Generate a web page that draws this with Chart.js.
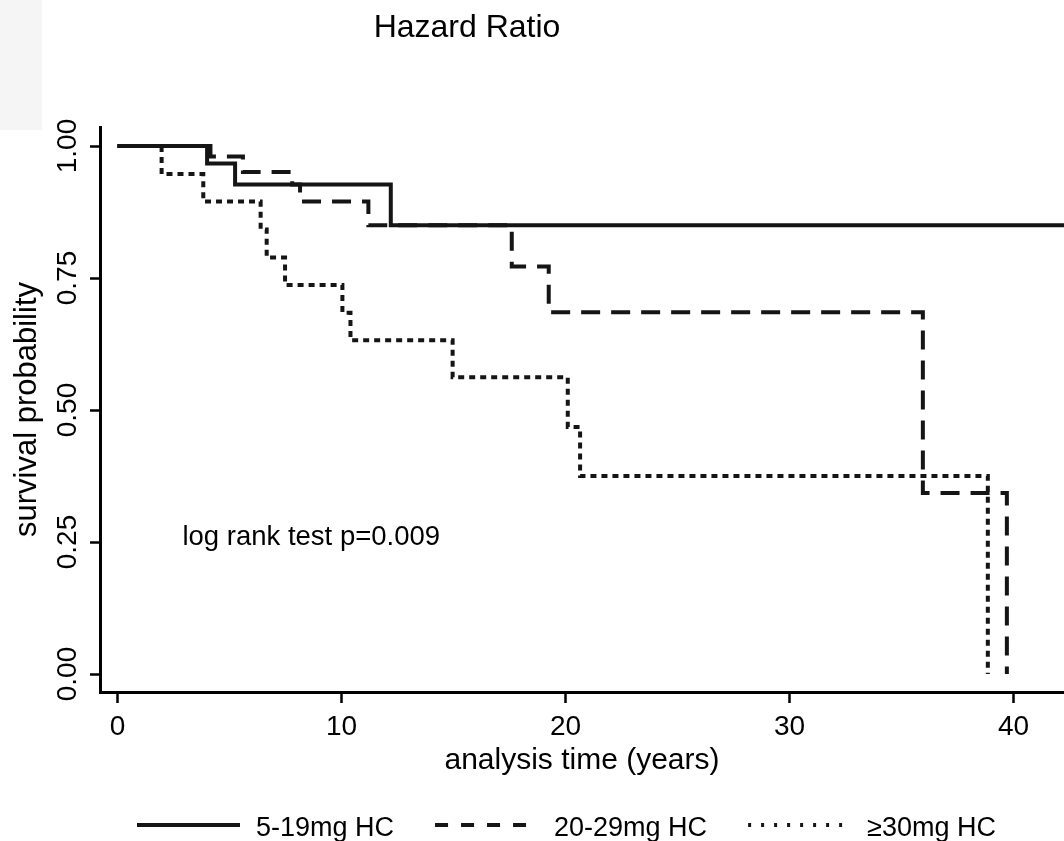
<!DOCTYPE html>
<html>
<head>
<meta charset="utf-8">
<script src="https://cdn.jsdelivr.net/npm/chart.js@4.4.1/dist/chart.umd.min.js"></script>
<style>
    html, body { margin: 0; padding: 0; background: #fff; }
    canvas { display: block; }
</style>
</head>
<body>
<canvas id="km" width="1064" height="841"></canvas>
<script>
(function () {
    // Kaplan-Meier steps per hydrocortisone dose group (time in years, survival probability)
    var groupLabels = ['5-19mg HC', '20-29mg HC', '\u226530mg HC'];

    var lowDoseTimes = [0, 4.0, 5.25, 12.2, 42.3];
    var lowDoseSurvival = [1, 0.967, 0.927, 0.85, 0.85];

    var midDoseTimes = [0, 4.15, 5.6, 7.8, 8.15, 11.2, 17.6, 19.25, 35.95, 39.7];
    var midDoseSurvival = [1, 0.98, 0.951, 0.927, 0.895, 0.85, 0.772, 0.685, 0.343, 0];

    var highDoseTimes = [0, 1.97, 3.83, 6.39, 6.66, 7.48, 10.04, 10.4, 14.96, 20.1, 20.65, 38.85];
    var highDoseSurvival = [1, 0.947, 0.895, 0.842, 0.789, 0.737, 0.684, 0.632, 0.562, 0.468, 0.375, 0];

    var xTicks = [0, 10, 20, 30, 40];
    var yTicks = [0, 0.25, 0.5, 0.75, 1];
    var yTickLabels = ['0.00', '0.25', '0.50', '0.75', '1.00'];

    var pValueText = 'log rank test p=0.009';
    var pValueAt = [2.9, 0.245];

    var FONT = '"Liberation Sans", Arial, Helvetica, sans-serif';
    var INK = '#151515';

    function toPoints(times, values) {
        return times.map(function (t, i) {
            return { x: t, y: values[i] };
        });
    }

    var plotDash = [[], [19, 11], [6, 5]];
    var legendDash = [[], [13, 13], [3, 10]];

    var decorations = {
        id: 'decorations',
        beforeDraw: function (chart) {
            var ctx = chart.ctx;
            ctx.save();
            ctx.fillStyle = '#ffffff';
            ctx.fillRect(0, 0, chart.width, chart.height);
            ctx.fillStyle = '#f5f5f5';
            ctx.fillRect(0, 0, 42, 130);
            ctx.restore();
        },
        afterDraw: function (chart) {
            var ctx = chart.ctx;
            var xs = chart.scales.x;
            var ys = chart.scales.y;
            ctx.save();
            ctx.fillStyle = '#000';

            // heading
            ctx.font = '32px ' + FONT;
            ctx.textAlign = 'center';
            ctx.textBaseline = 'alphabetic';
            ctx.fillText('Hazard Ratio', 467, 37);

            // vertical tick labels on the survival axis
            ctx.font = '28px ' + FONT;
            ctx.textBaseline = 'middle';
            yTicks.forEach(function (v, i) {
                ctx.save();
                ctx.translate(68, ys.getPixelForValue(v));
                ctx.rotate(-Math.PI / 2);
                ctx.fillText(yTickLabels[i], 0, 0);
                ctx.restore();
            });

            // log rank note
            ctx.font = '27.5px ' + FONT;
            ctx.textAlign = 'left';
            ctx.textBaseline = 'alphabetic';
            ctx.fillText(pValueText, xs.getPixelForValue(pValueAt[0]), ys.getPixelForValue(pValueAt[1]));

            // legend row
            ctx.font = '27px ' + FONT;
            var left = 137, sampleW = 103, textGap = 16, itemGap = 41, lineY = 825, textY = 836;
            chart.data.datasets.forEach(function (ds, i) {
                ctx.save();
                ctx.strokeStyle = ds.borderColor;
                ctx.lineWidth = 4;
                ctx.setLineDash(legendDash[i]);
                ctx.beginPath();
                ctx.moveTo(left, lineY);
                ctx.lineTo(left + sampleW, lineY);
                ctx.stroke();
                ctx.restore();
                ctx.fillText(ds.label, left + sampleW + textGap, textY);
                left += sampleW + textGap + ctx.measureText(ds.label).width + itemGap;
            });
            ctx.restore();
        }
    };

    var series = [
        toPoints(lowDoseTimes, lowDoseSurvival),
        toPoints(midDoseTimes, midDoseSurvival),
        toPoints(highDoseTimes, highDoseSurvival)
    ];

    Chart.defaults.font.family = FONT;
    Chart.defaults.color = '#000';

    new Chart(document.getElementById('km'), {
        type: 'line',
        data: {
            datasets: series.map(function (pts, i) {
                return {
                    label: groupLabels[i],
                    data: pts,
                    stepped: true,
                    borderColor: INK,
                    borderWidth: 4,
                    borderDash: plotDash[i],
                    pointRadius: 0,
                    fill: false
                };
            })
        },
        options: {
            responsive: false,
            devicePixelRatio: 1,
            animation: false,
            layout: { padding: { top: 127, right: 0, bottom: 0, left: 0 } },
            plugins: {
                legend: { display: false },
                tooltip: { enabled: false }
            },
            scales: {
                x: {
                    type: 'linear',
                    min: -0.78,
                    max: 42.25,
                    afterBuildTicks: function (scale) {
                        scale.ticks = xTicks.map(function (v) { return { value: v }; });
                    },
                    afterFit: function (scale) { scale.height = 149; },
                    border: { display: true, color: '#000', width: 3 },
                    grid: {
                        drawOnChartArea: false,
                        drawTicks: true,
                        tickLength: 11,
                        tickWidth: 2.5,
                        tickColor: '#000'
                    },
                    ticks: {
                        autoSkip: false,
                        maxRotation: 0,
                        padding: 7,
                        color: '#000',
                        font: { size: 28 }
                    },
                    title: {
                        display: true,
                        text: 'analysis time (years)',
                        color: '#000',
                        font: { size: 30 },
                        padding: { top: 0, bottom: 62 }
                    }
                },
                y: {
                    type: 'linear',
                    min: -0.034,
                    max: 1.036,
                    afterBuildTicks: function (scale) {
                        scale.ticks = yTicks.map(function (v) { return { value: v }; });
                    },
                    afterFit: function (scale) { scale.width = 100; },
                    border: { display: true, color: '#000', width: 3 },
                    grid: {
                        drawOnChartArea: false,
                        drawTicks: true,
                        tickLength: 10,
                        tickWidth: 2.5,
                        tickColor: '#000'
                    },
                    ticks: { color: 'rgba(0,0,0,0)' },
                    title: {
                        display: true,
                        text: 'survival probability',
                        color: '#000',
                        font: { size: 31 },
                        padding: { top: 9, bottom: 0 }
                    }
                }
            }
        },
        plugins: [decorations]
    });
})();
</script>
</body>
</html>
